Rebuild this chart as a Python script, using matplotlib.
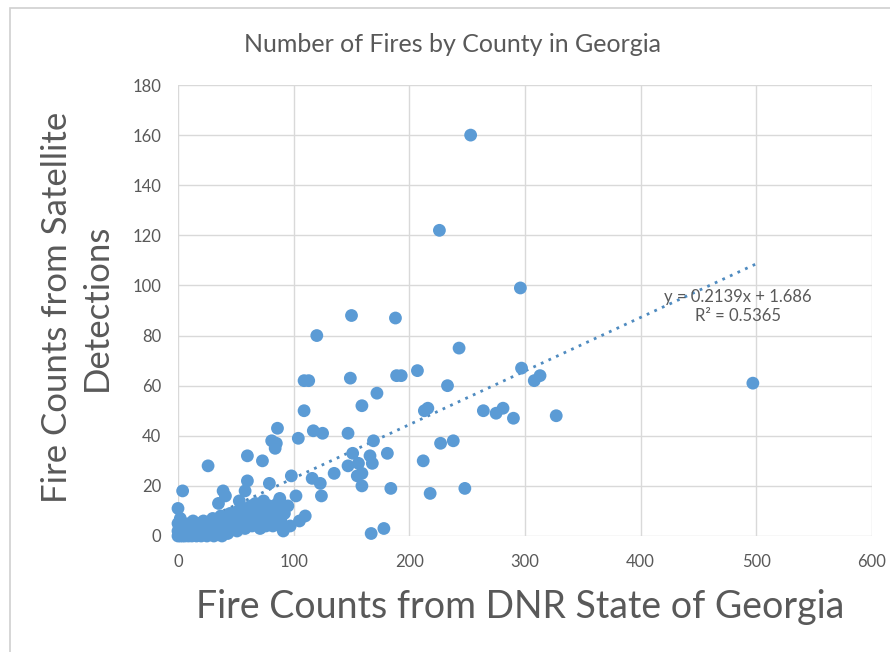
import matplotlib
matplotlib.use("Agg")
import matplotlib.pyplot as plt
from matplotlib.patches import Rectangle

# DNR counts (x) and satellite counts (y)
dnr_upper = [253, 226, 296, 497, 120, 150, 188, 189, 193, 207, 243, 297, 308, 313, 327, 290, 281, 275,
             264, 233, 216, 213, 172, 169, 181, 166, 168, 227, 238, 212, 184, 218, 248, 178, 167]
sat_upper = [160, 122, 99, 61, 80, 88, 87, 64, 64, 66, 75, 67, 62, 64, 48, 47, 51, 49,
             50, 60, 51, 50, 57, 38, 33, 32, 29, 37, 38, 30, 19, 17, 19, 3, 1]

dnr_mid = [109, 113, 149, 109, 86, 117, 125, 147, 104, 81, 85, 84, 159, 151, 156, 147, 135, 155, 159, 159,
           98, 116, 123, 102, 124, 88, 91, 110, 105, 97, 91, 60, 73, 26, 4, 39, 41, 60, 58, 35, 53, 79, 0, 2, 86]
sat_mid = [62, 62, 63, 50, 43, 42, 41, 41, 39, 38, 37, 35, 52, 33, 29, 28, 25, 24, 25, 20,
           24, 23, 21, 16, 16, 15, 12, 8, 6, 4, 2, 32, 30, 28, 18, 18, 16, 22, 18, 13, 14, 21, 11, 7, 13]

dnr_low = [0, 0, 0, 1, 2, 2, 3, 4, 5, 5, 6, 7, 8, 9, 10, 10, 11, 12, 13, 14, 15, 16, 17, 18, 19, 20, 21, 22,
           23, 24, 25, 26, 27, 28, 29, 30, 31, 32, 33, 34, 35, 36, 37, 38, 39, 40, 41, 42, 43, 45, 46, 47, 48,
           50, 51, 52, 53, 55, 56, 57, 58, 60, 61, 63, 64, 65, 66, 67, 68, 70, 71, 72, 73, 74, 75, 76, 78, 79,
           80, 81, 82, 83, 85, 89, 92, 95]
sat_low = [0, 2, 5, 1, 0, 3, 1, 0, 2, 5, 0, 1, 3, 0, 1, 5, 2, 0, 6, 1, 3, 0, 2, 5, 1, 0, 3, 6,
           1, 4, 0, 2, 5, 1, 3, 7, 0, 2, 4, 6, 1, 3, 8, 0, 5, 2, 7, 4, 1, 9, 5, 3, 7,
           6, 2, 10, 4, 8, 5, 11, 3, 9, 6, 12, 4, 10, 7, 13, 5, 9, 3, 11, 6, 14, 8, 4, 10, 12,
           6, 9, 4, 11, 7, 6, 9, 12]

x = dnr_upper + dnr_mid + dnr_low
y = sat_upper + sat_mid + sat_low

slope, intercept = 0.2139, 1.686
trend_x = [0, 500]
x_ticks = [0, 100, 200, 300, 400, 500, 600]
y_ticks = [0, 20, 40, 60, 80, 100, 120, 140, 160, 180]

FONT = ["Lato", "DejaVu Sans"]
GRAY = "#595959"
BLUE = "#5B9BD5"

fig = plt.figure(figsize=(8.9, 6.52), dpi=100)
fig.patches.append(Rectangle((10 / 890, -0.1), 1.2, 1 - 8 / 652 + 0.1, transform=fig.transFigure,
                             fill=False, edgecolor="#D0D0D0", linewidth=1.2))
ax = fig.add_axes([178 / 890, 1 - 536 / 652, (872 - 178) / 890, (536 - 85) / 652])

ax.plot(trend_x, [slope * v + intercept for v in trend_x], linestyle=(0, (1, 2)), color="#4F8BC0",
        linewidth=2.0, zorder=2)
ax.scatter(x, y, s=85, color=BLUE, edgecolors="none", zorder=3, clip_on=False)

ax.set_xlim(0, 600)
ax.set_ylim(0, 180)
ax.set_xticks(x_ticks)
ax.set_yticks(y_ticks)
ax.grid(True, color="#D9D9D9", linewidth=1.0, zorder=0)
ax.set_axisbelow(True)
for s in ax.spines.values():
    s.set_visible(False)
ax.tick_params(axis="x", length=0, labelsize=12, labelcolor=GRAY, pad=13)
ax.tick_params(axis="y", length=0, labelsize=12, labelcolor=GRAY, pad=12)
for lab in ax.get_xticklabels() + ax.get_yticklabels():
    lab.set_family(FONT)

ax.text((738 - 178) / 694, (536 - 306.5) / 451, "y = 0.2139x + 1.686\nR² = 0.5365", transform=ax.transAxes,
        ha="center", va="center", fontsize=12, color=GRAY, family=FONT, linespacing=1.25)

fig.text(452 / 890, 1 - 44 / 652, "Number of Fires by County in Georgia", ha="center", va="center",
         fontsize=18, color=GRAY, family=FONT)
fig.text(77 / 890, 1 - 307 / 652, "Fire Counts from Satellite\nDetections", ha="center", va="center",
         rotation=90, fontsize=25, color=GRAY, family=FONT, multialignment="center", linespacing=1.3)
fig.text(520 / 890, 1 - 607 / 652, "Fire Counts from DNR State of Georgia", ha="center", va="center",
         fontsize=27, color=GRAY, family=FONT)

fig.savefig("out.png", dpi=100)
